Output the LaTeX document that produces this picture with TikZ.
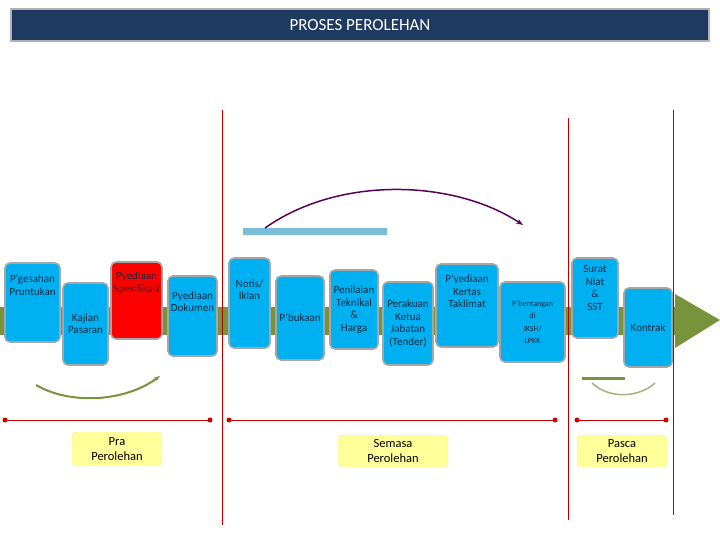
\documentclass[tikz,border=0pt]{standalone}
\usepackage{fontspec}
\setmainfont{Carlito}
\usetikzlibrary{positioning, arrows.meta}
\definecolor{bandgreen}{HTML}{77933C}
\definecolor{stepblue}{HTML}{00B0F0}
\definecolor{titleblue}{HTML}{1F3A60}
\definecolor{labelyellow}{HTML}{FFFF99}
\tikzset{
  stepbox/.style={draw=gray!70, line width=1.6pt, fill=stepblue, rounded corners=5pt, align=center, font=\fontsize{11}{12.5}\selectfont, text=titleblue!70!black, inner sep=0pt},
  phasebox/.style={draw=yellow!60!gray!40, fill=labelyellow, rounded corners=4pt, align=center, font=\fontsize{12.5}{15}\selectfont, inner sep=1pt},
  redline/.style={draw=red!75!black, line width=1pt},
  divider/.style={draw=red!70!black, line width=0.6pt}
}
\newcommand{\stepat}[6]{\node[stepbox, minimum width=#3-#1, minimum height=#4-#2] (#5) at ({(#1+#3)/2},{(#2+#4)/2}) {#6};}
\begin{document}
\begin{tikzpicture}[x=1pt, y=-1pt]
  \useasboundingbox (0,0) rectangle (720,540);
  % title
  \node[draw=gray!60, line width=1.5pt, fill=titleblue, text=white, minimum width=698pt, minimum height=32pt, font=\fontsize{17}{20}\selectfont] (title) at (360,25) {PROSES PEROLEHAN};
  % band and arrow head
  \fill[bandgreen] (0,307) rectangle (690,335);
  \fill[bandgreen] (675,294) -- (720,320) -- (675,348) -- cycle;
  % dividers
  \draw[divider] (222,110) -- (222,525);
  \draw[divider] (568,118) -- (568,520);
  \draw[divider] (673,110) -- (673,515);
  % steps
  \stepat{5}{263}{60}{342}{gesahan}{P'gesahan\\Pruntukan\\[22pt]}
  \stepat{63}{283}{108}{365}{kajian}{Kajian\\Pasaran}
  \node[stepbox, fill=red, minimum width=51pt, minimum height=77pt] (spesifikasi) at (136.5,300.5) {Pyediaan\\Spesifikasi\\[24pt]};
  \stepat{168}{276}{217}{356}{dokumen}{Pyediaan\\Dokumen\\[16pt]}
  \stepat{229}{258}{270}{348}{notis}{Notis/\\Iklan\\[14pt]}
  \stepat{276}{276}{324}{360}{bukaan}{P'bukaan}
  \stepat{330}{270}{378}{349}{penilaian}{Penilaian\\Teknikal\\\&\\Harga}
  \stepat{383}{282}{433}{365}{perakuan}{Perakuan\\Ketua\\Jabatan\\(Tender)}
  \stepat{436}{264}{498}{347}{kertas}{P'yediaan\\Kertas\\Taklimat\\[16pt]}
  \stepat{500}{282}{565}{362}{bentangan}{\footnotesize P'bentangan\\\footnotesize di\\\footnotesize JKSH/\\\footnotesize LPKK}
  \stepat{572}{258}{618}{338}{niat}{Surat\\Niat\\\&\\SST\\[8pt]}
  \stepat{624}{288}{672}{367}{kontrak}{Kontrak}
  % arcs
  \fill[cyan!50!teal!60] (243,228) rectangle (387,235);
  \draw[violet!70!black, line width=1.5pt, -{Stealth[length=7pt]}] (265,228) .. controls (340,175) and (455,180) .. (523,225);
  \draw[bandgreen, line width=2pt, -{Stealth[length=6pt]}] (36,385) .. controls (70,405) and (125,402) .. (160,376);
  \fill[bandgreen] (582,377) rectangle (625,380);
  \draw[bandgreen!70, line width=1.5pt] (592,383) .. controls (610,400) and (640,397) .. (655,383);
  % phase lines
  \foreach \a/\b in {5/210, 229/555, 577/666}{
    \draw[redline] (\a,420) -- (\b,420);
    \fill[red!80!black] (\a,420) circle (2.5pt) (\b,420) circle (2.5pt);
  }
  \node[phasebox, minimum width=90pt, minimum height=34pt] (pra) at (117,449) {Pra\\Perolehan};
  \node[phasebox, minimum width=110pt, minimum height=32pt] (semasa) at (393,451) {Semasa\\Perolehan};
  \node[phasebox, minimum width=90pt, minimum height=32pt] (pasca) at (622,451) {Pasca\\Perolehan};
\end{tikzpicture}
\end{document}
